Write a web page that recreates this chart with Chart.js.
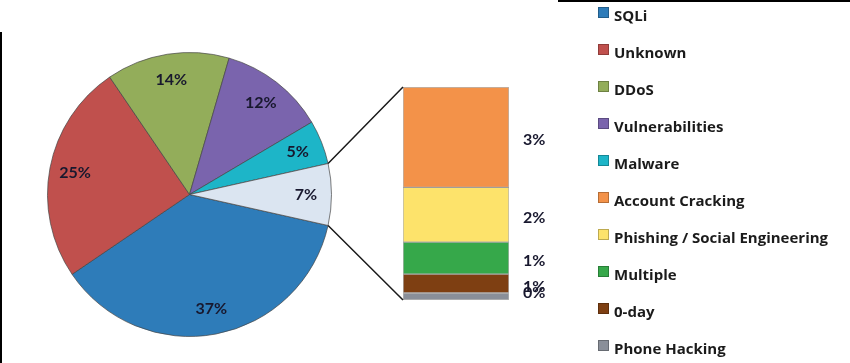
<!DOCTYPE html>
<html>
<head>
<meta charset="utf-8">
<script src="https://cdn.jsdelivr.net/npm/chart.js@4"></script>
<style>
    body { margin: 0; background: #fff; }
    #wrap { position: relative; width: 850px; height: 363px; overflow: hidden; }
    #wrap canvas { position: absolute; left: 0; top: 0; }
    .frame-top { position: absolute; left: 558px; top: 0; width: 292px; height: 2px; background: #000; }
    .frame-left { position: absolute; left: 0; top: 32px; width: 2px; height: 331px; background: #000; }
    #legend { position: absolute; left: 598px; top: -4px; font-family: "Open Sans", Lato, sans-serif; font-weight: 700; font-size: 15px; color: #1b1b1b; }
    #legend .item { height: 37.1px; display: flex; align-items: center; white-space: nowrap; }
    #legend .box { width: 9px; height: 9px; margin-right: 5px; margin-top: -5px; border: 1px solid rgba(0,0,0,0.25); }
</style>
</head>
<body>
<div id="wrap">
    <canvas id="pieChart" width="850" height="363"></canvas>
    <canvas id="barChart" width="850" height="363"></canvas>
    <div class="frame-top"></div>
    <div class="frame-left"></div>
    <div id="legend"></div>
</div>
<script>
// Pie slices (clockwise from the "Other" slice)
const pieLabels = ['SQLi', 'Unknown', 'DDoS', 'Vulnerabilities', 'Malware', 'Other'];
const pieValues = [37, 25, 14, 12, 5, 7];
const pieColors = ['#2e7cb9', '#c0504d', '#93ad5a', '#7a64ad', '#1db5c8', '#dbe5f1'];

// Breakdown of "Other" (top to bottom in the bar)
const barLabels = ['Account Cracking', 'Phishing / Social Engineering', 'Multiple', '0-day', 'Phone Hacking'];
const barValues = [3.3, 1.8, 1.05, 0.62, 0.23];
const barColors = ['#f39249', '#fde36b', '#36a84a', '#7e3f12', '#8a8f99'];

document.addEventListener('DOMContentLoaded', () => {
    const labelFont = 'bold 16px Lato, "Open Sans", sans-serif';
    const labelColor = '#18182e';
    const pct = (v) => Math.round(v) + '%';

    const otherShare = pieValues[pieValues.length - 1] / pieValues.reduce((a, b) => a + b, 0);

    // Percent labels inside the slices
    const pieLabelPlugin = {
        id: 'pieLabels',
        afterDatasetsDraw(chart) {
            const { ctx } = chart;
            const meta = chart.getDatasetMeta(0);
            ctx.save();
            ctx.font = labelFont;
            ctx.fillStyle = labelColor;
            ctx.textAlign = 'center';
            ctx.textBaseline = 'middle';
            meta.data.forEach((arc, i) => {
                const mid = (arc.startAngle + arc.endAngle) / 2;
                const r = arc.outerRadius * 0.82;
                ctx.fillText(pct(pieValues[i]), arc.x + Math.cos(mid) * r, arc.y + Math.sin(mid) * r);
            });
            ctx.restore();
        }
    };

    const pieChart = new Chart(document.getElementById('pieChart'), {
        type: 'pie',
        data: {
            labels: pieLabels,
            datasets: [{
                data: pieValues,
                backgroundColor: pieColors,
                borderColor: 'rgba(70,70,70,0.7)',
                borderWidth: 1
            }]
        },
        options: {
            responsive: false,
            animation: false,
            devicePixelRatio: 1,
            rotation: 90 + otherShare * 180,
            layout: { padding: { left: 47, right: 518, top: 52, bottom: 26 } },
            plugins: { legend: { display: false }, tooltip: { enabled: false } }
        },
        plugins: [pieLabelPlugin]
    });

    // Connector lines from the "Other" slice to the bar + segment labels
    const barExtrasPlugin = {
        id: 'barExtras',
        afterDatasetsDraw(chart) {
            const { ctx, chartArea } = chart;
            const arcs = pieChart.getDatasetMeta(0).data;
            const other = arcs[arcs.length - 1];
            const topMeta = chart.getDatasetMeta(chart.data.datasets.length - 1).data[0];
            const left = topMeta.x - topMeta.width / 2;

            ctx.save();
            ctx.strokeStyle = '#1a1a1a';
            ctx.lineWidth = 1.5;
            ctx.beginPath();
            ctx.moveTo(other.x + Math.cos(other.startAngle) * other.outerRadius, other.y + Math.sin(other.startAngle) * other.outerRadius);
            ctx.lineTo(left, chartArea.top);
            ctx.moveTo(other.x + Math.cos(other.endAngle) * other.outerRadius, other.y + Math.sin(other.endAngle) * other.outerRadius);
            ctx.lineTo(left, chartArea.bottom);
            ctx.stroke();

            ctx.font = labelFont;
            ctx.fillStyle = labelColor;
            ctx.textAlign = 'left';
            ctx.textBaseline = 'middle';
            chart.data.datasets.forEach((ds, i) => {
                const bar = chart.getDatasetMeta(i).data[0];
                const y = Math.min((bar.y + bar.base) / 2 + 3, chartArea.bottom - 7);
                ctx.fillText(pct(ds.data[0]), bar.x + bar.width / 2 + 14, y);
            });
            ctx.restore();
        }
    };

    // stacked bottom-up, so reverse the top-to-bottom order
    const barDatasets = barLabels.map((label, i) => ({
        label: label,
        data: [barValues[i]],
        backgroundColor: barColors[i],
        borderColor: 'rgba(90,90,90,0.45)',
        borderWidth: 1,
        borderSkipped: false
    })).reverse();

    new Chart(document.getElementById('barChart'), {
        type: 'bar',
        data: { labels: ['Other'], datasets: barDatasets },
        options: {
            responsive: false,
            animation: false,
            devicePixelRatio: 1,
            layout: { padding: { left: 403, right: 341, top: 87, bottom: 63 } },
            datasets: { bar: { barPercentage: 1, categoryPercentage: 1 } },
            scales: {
                x: { stacked: true, display: false },
                y: { stacked: true, display: false, min: 0, max: barValues.reduce((a, b) => a + b, 0) }
            },
            plugins: { legend: { display: false }, tooltip: { enabled: false } }
        },
        plugins: [barExtrasPlugin]
    });

    // Legend: pie categories (without "Other") followed by the breakdown
    const legendEl = document.getElementById('legend');
    const legendLabels = pieLabels.slice(0, -1).concat(barLabels);
    const legendColors = pieColors.slice(0, -1).concat(barColors);
    legendLabels.forEach((label, i) => {
        const row = `<div class="item"><span class="box" style="background:${legendColors[i]}"></span>${label}</div>`;
        legendEl.insertAdjacentHTML('beforeend', row);
    });
});
</script>
</body>
</html>
